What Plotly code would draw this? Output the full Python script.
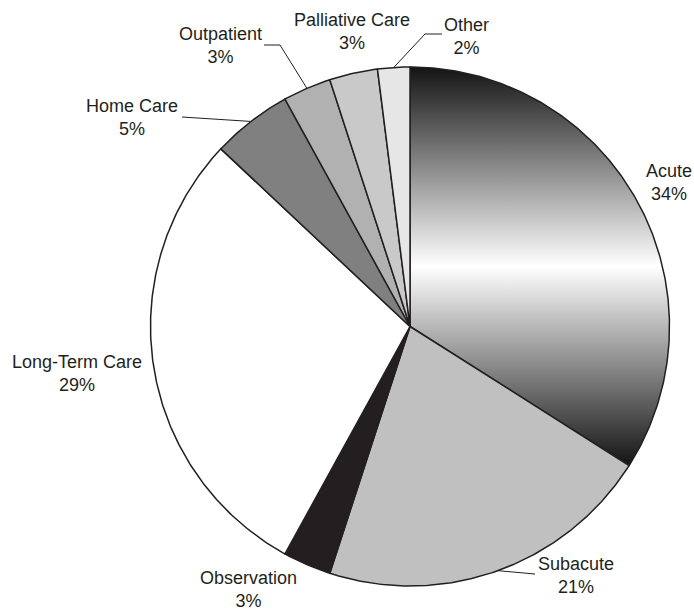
import numpy as np
import plotly.graph_objects as go

# Share of patient days by care setting (percent), clockwise from 12 o'clock
labels = ["Acute", "Subacute", "Observation", "Long-Term Care",
          "Home Care", "Outpatient", "Palliative Care", "Other"]
values = [34, 21, 3, 29, 5, 3, 3, 2]
colors = ["gradient", "#c0c0c0", "#231f20", "#ffffff",
          "#808080", "#b1b1b1", "#c9c9c9", "#e6e6e6"]

# Geometry of the pie, in page pixels
W, H = 694, 611
CX, CY, R = 410, 326.5, 259.5
EDGE = "#231f20"

# Label block centres and optional leader-line elbows (page pixels)
label_pos = {
    "Acute": (669, 182),
    "Subacute": (576, 575),
    "Observation": (248, 589),
    "Long-Term Care": (77, 373),
    "Home Care": (132, 117),
    "Outpatient": (220, 45),
    "Palliative Care": (352, 31),
    "Other": (466, 36),
}
leaders = {
    "Subacute": [(535, 574)],
    "Home Care": [(182, 117)],
    "Outpatient": [(280, 45), (264, 45)],
    "Other": [(425, 34), (442, 34)],
}


def pt(theta_deg, r=R):
    t = np.radians(theta_deg)
    return CX + r * np.sin(t), CY - r * np.cos(t)


fig = go.Figure()

total = float(sum(values))
start = 0.0
mids = {}
for lab, val, col in zip(labels, values, colors):
    span = 360.0 * val / total
    end = start + span
    th = np.linspace(start, end, max(8, int(span * 2)))
    ax, ay = pt(th)
    xs = np.concatenate([[CX], ax, [CX]])
    ys = np.concatenate([[CY], ay, [CY]])
    trace = dict(x=xs, y=ys, mode="lines", fill="toself",
                 line=dict(color=EDGE, width=1.5),
                 hoverinfo="skip", showlegend=False)
    if col == "gradient":
        trace["fillgradient"] = dict(
            type="vertical",
            colorscale=[[0, "#141414"], [0.5, "#ffffff"], [1, "#141414"]],
        )
    else:
        trace["fillcolor"] = col
    fig.add_trace(go.Scatter(**trace))
    mids[lab] = start + span / 2
    start = end

# Leader lines from slice edge to label
for lab, elbow in leaders.items():
    sx, sy = pt(mids[lab])
    xs = [sx] + [p[0] for p in elbow]
    ys = [sy] + [p[1] for p in elbow]
    fig.add_trace(go.Scatter(x=xs, y=ys, mode="lines",
                             line=dict(color=EDGE, width=1),
                             hoverinfo="skip", showlegend=False))

for lab, val in zip(labels, values):
    x, y = label_pos[lab]
    fig.add_annotation(x=x, y=y, xref="x", yref="y",
                       text=f"{lab}<br>{val}%", showarrow=False,
                       xanchor="center", yanchor="middle", align="center",
                       font=dict(family="Liberation Sans, Arial, sans-serif",
                                 size=18, color=EDGE))

fig.update_layout(
    width=W, height=H,
    margin=dict(l=0, r=0, t=0, b=0),
    paper_bgcolor="white", plot_bgcolor="white",
    xaxis=dict(range=[0, W], visible=False, fixedrange=True),
    yaxis=dict(range=[H, 0], visible=False, fixedrange=True),
)

fig.write_html("out.html")
